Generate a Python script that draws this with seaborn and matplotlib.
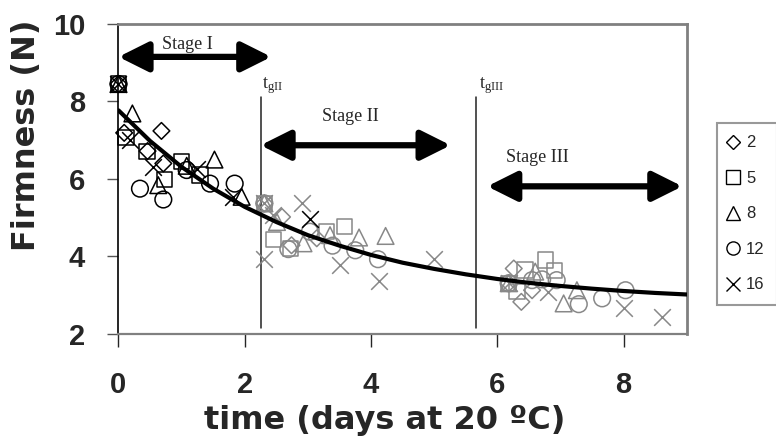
import pandas as pd
import matplotlib
matplotlib.use('Agg')
import matplotlib.pyplot as plt
import seaborn as sns
from matplotlib.lines import Line2D

# storage temperatures (legend entries) and their symbols
temps = ['2', '5', '8', '12', '16']
symbols = ['D', 's', '^', 'o', 'x']
sizes = [72, 121, 144, 144, 144]

# firmness readings; shade 'k' = black symbol, 'g' = grey symbol
day_2 = [0, 0.09, 0.46, 0.68, 0.71, 2.31, 2.59, 2.74, 3.14, 6.18, 6.26, 6.38, 6.55]
firm_2 = [8.45, 7.19, 6.72, 7.24, 6.40, 5.37, 5.02, 4.29, 4.47, 3.31, 3.69, 2.83, 3.13]
shade_2 = ['k', 'k', 'k', 'k', 'k', 'g', 'g', 'g', 'g', 'g', 'g', 'g', 'g']

day_5 = [0, 0.12, 0.45, 0.73, 1.00, 1.29, 2.31, 2.45, 2.72, 3.30, 3.58, 6.18, 6.31, 6.44, 6.76, 6.90]
firm_5 = [8.45, 7.07, 6.70, 5.99, 6.46, 6.10, 5.37, 4.44, 4.21, 4.64, 4.77, 3.31, 3.09, 3.65, 3.91, 3.63]
shade_5 = ['k', 'k', 'k', 'k', 'k', 'k', 'g', 'g', 'g', 'g', 'g', 'g', 'g', 'g', 'g', 'g']

day_8 = [0, 0.22, 0.63, 1.08, 1.52, 1.95, 2.31, 2.51, 2.93, 3.35, 3.81, 4.23, 6.18, 6.60, 7.05, 7.26]
firm_8 = [8.45, 7.69, 5.84, 6.34, 6.50, 5.54, 5.37, 4.89, 4.34, 4.55, 4.49, 4.53, 3.31, 3.61, 2.79, 3.13]
shade_8 = ['k', 'k', 'k', 'k', 'k', 'k', 'g', 'g', 'g', 'g', 'g', 'g', 'g', 'g', 'g', 'g']

day_12 = [0, 0.34, 0.71, 1.08, 1.45, 1.84, 2.31, 2.69, 3.03, 3.39, 3.75, 4.11, 6.18, 6.55, 6.71, 6.94, 7.29, 7.66, 8.03]
firm_12 = [8.45, 5.75, 5.47, 6.23, 5.88, 5.88, 5.37, 4.19, 4.64, 4.28, 4.16, 3.93, 3.31, 3.39, 3.41, 3.39, 2.77, 2.92, 3.13]
shade_12 = ['k', 'k', 'k', 'k', 'k', 'k', 'g', 'g', 'g', 'g', 'g', 'g', 'g', 'g', 'g', 'g', 'g', 'g', 'g']

day_16 = [0, 0.18, 0.55, 1.24, 1.82, 3.03, 2.31, 2.45, 2.31, 2.91, 3.51, 4.12, 4.99, 6.18, 6.81, 8.00, 8.61]
firm_16 = [8.45, 7.00, 6.31, 6.27, 5.54, 4.98, 5.37, 5.07, 3.93, 5.37, 3.78, 3.37, 3.93, 3.31, 3.09, 2.66, 2.45]
shade_16 = ['k', 'k', 'k', 'k', 'k', 'k', 'g', 'g', 'g', 'g', 'g', 'g', 'g', 'g', 'g', 'g', 'g']

# fitted softening curve
curve_day = [0, 0.5, 1, 1.5, 2, 2.5, 3, 3.5, 4, 4.5, 5, 5.5, 6, 6.5, 7, 7.5, 8, 8.5, 9]
curve_firm = [7.77, 6.98, 6.31, 5.75, 5.28, 4.89, 4.55, 4.28, 4.04, 3.84, 3.68, 3.54,
              3.42, 3.32, 3.24, 3.17, 3.11, 3.06, 3.02]

# transition times between stages
t_gII = 2.25
t_gIII = 5.66

frames = []
for temp, d, f, s in zip(temps, [day_2, day_5, day_8, day_12, day_16],
                         [firm_2, firm_5, firm_8, firm_12, firm_16],
                         [shade_2, shade_5, shade_8, shade_12, shade_16]):
    frames.append(pd.DataFrame({'temp': temp, 'day': d, 'firmness': f, 'shade': s}))
df = pd.concat(frames, ignore_index=True)

sns.set_style('ticks')
plt.rcParams['font.family'] = ['Liberation Sans', 'DejaVu Sans']

fig = plt.figure(figsize=(7.76, 4.43), dpi=100)
ax = fig.add_axes([0.1527, 0.246, 0.7323, 0.700])

sns.lineplot(x=curve_day, y=curve_firm, color='black', linewidth=3, ax=ax, zorder=4)

colors = {'k': 'black', 'g': '#888888'}
for temp, mk, sz in zip(temps, symbols, sizes):
    sub = df[df['temp'] == temp]
    for shade, grp in sub.groupby('shade'):
        c = colors[shade]
        if mk == 'x':
            sns.scatterplot(data=grp, x='day', y='firmness', marker=mk, s=sz, color=c,
                            linewidth=1.1, ax=ax, zorder=3, clip_on=False)
        else:
            sns.scatterplot(data=grp, x='day', y='firmness', marker=mk, s=sz, color=c,
                            facecolor='none', edgecolor=c, linewidth=1.1, ax=ax,
                            zorder=3, clip_on=False)

# stage boundaries
for tg in [t_gII, t_gIII]:
    ax.plot([tg, tg], [2.15, 8.12], color='#222222', lw=1.1)
ax.text(t_gII + 0.02, 8.42, r'$\mathregular{t_{gII}}$', family='Liberation Serif',
        fontsize=13, ha='left', va='center')
ax.text(t_gIII + 0.05, 8.42, r'$\mathregular{t_{gIII}}$', family='Liberation Serif',
        fontsize=13, ha='left', va='center')

arrow = dict(arrowstyle='<|-|>,head_length=0.9,head_width=0.45', lw=4.5, color='black',
             shrinkA=0, shrinkB=0, mutation_scale=20)
ax.annotate('', xy=(2.42, 9.15), xytext=(0.0, 9.15), arrowprops=arrow, annotation_clip=False)
ax.annotate('', xy=(5.26, 6.87), xytext=(t_gII, 6.87), arrowprops=arrow)
ax.annotate('', xy=(8.93, 5.81), xytext=(5.84, 5.81), arrowprops=arrow)
ax.text(1.09, 9.47, 'Stage I', family='Liberation Serif', fontsize=13, ha='center', va='center')
ax.text(3.68, 7.6, 'Stage II', family='Liberation Serif', fontsize=13, ha='center', va='center')
ax.text(6.63, 6.55, 'Stage III', family='Liberation Serif', fontsize=13, ha='center', va='center')

ax.set_xlim(0, 9)
ax.set_ylim(2, 10)
ax.set_xticks([0, 2, 4, 6, 8])
ax.set_yticks([2, 4, 6, 8, 10])
ax.tick_params(axis='x', direction='out', length=9.5, width=1, pad=17, labelsize=21)
ax.tick_params(axis='y', direction='out', length=8, width=1, pad=16, labelsize=21,
               color='#555555')
for lab in ax.get_xticklabels() + ax.get_yticklabels():
    lab.set_fontweight('bold')

ax.set_xlabel('time (days at 20 ºC)', family='DejaVu Sans', fontweight='bold', fontsize=23)
ax.set_ylabel('Firmness (N)', family='DejaVu Sans', fontweight='bold', fontsize=23)
ax.xaxis.set_label_coords(0.468, -0.228)
ax.yaxis.set_label_coords(-0.134, 0.64)

ax.spines['left'].set_color('black')
ax.spines['left'].set_linewidth(1.2)
for side in ['top', 'right']:
    ax.spines[side].set_visible(True)
    ax.spines[side].set_color('#808080')
    ax.spines[side].set_linewidth(2)
ax.spines['bottom'].set_color('#808080')
ax.spines['bottom'].set_linewidth(1.6)

handles = [Line2D([], [], marker=mk, ls='none', mfc='none', mec='black', mew=1,
                  ms=(7 if mk == 'D' else 9.5)) for mk in symbols]
leg = fig.legend(handles, temps, loc='upper left', bbox_to_anchor=(0.924, 0.722),
                 frameon=True, fancybox=False, edgecolor='#808080', fontsize=12,
                 handlelength=0.4, handletextpad=0.6, labelspacing=1.23, borderpad=0.74,
                 borderaxespad=0)
leg.get_frame().set_linewidth(1.5)

fig.savefig('out.png', dpi=100)
